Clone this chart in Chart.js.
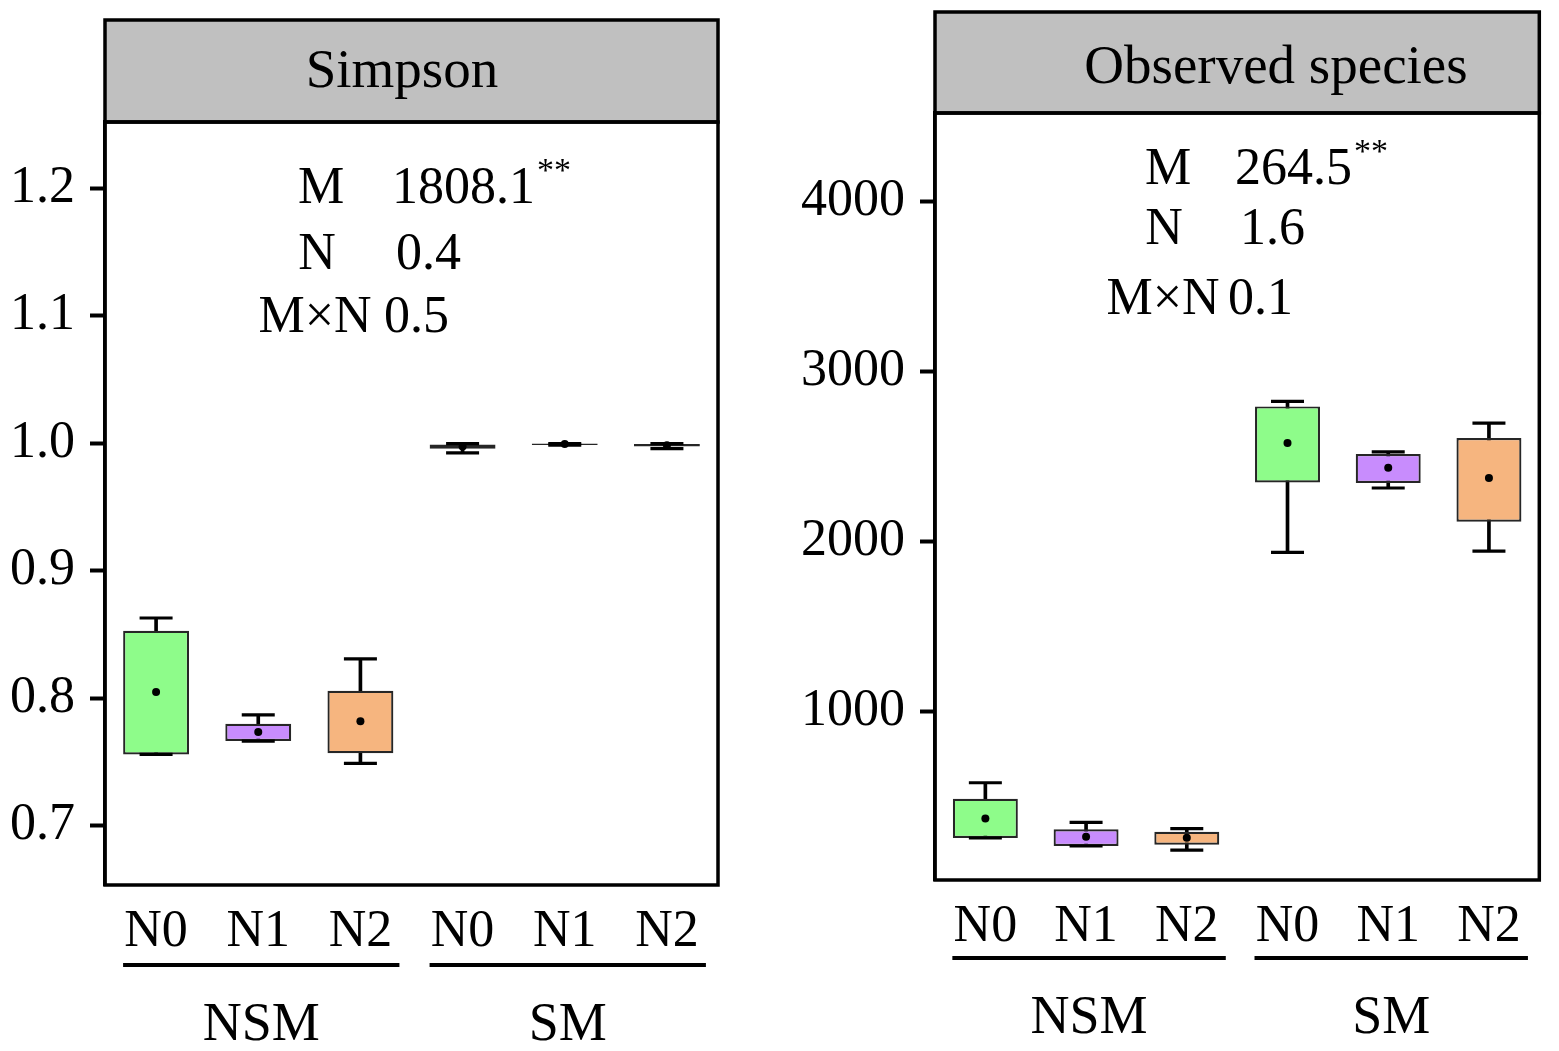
<!DOCTYPE html>
<html><head><meta charset="utf-8">
<script src="https://cdn.jsdelivr.net/npm/chart.js@4.4.1/dist/chart.umd.min.js"></script>
<style>
html,body{margin:0;padding:0;background:#fff;}
#wrap{position:relative;width:1559px;height:1051px;overflow:hidden;background:#fff;}
.panel{position:absolute;top:0;height:1051px;}
#p1{left:0;width:760px;}
#p2{left:780px;width:779px;}
</style></head><body>
<div id="wrap">
<div class="panel" id="p1"><canvas id="c1"></canvas></div>
<div class="panel" id="p2"><canvas id="c2"></canvas></div>
</div>
<script>
// ---- data ----
const categories = ['N0', 'N1', 'N2', 'N0', 'N1', 'N2'];
const groups = ['NSM', 'SM'];
const boxColors = ['#8efc8a', '#c88cfd', '#f6b57f', '#8efc8a', '#c88cfd', '#f6b57f'];

const simpsonMin  = [0.756, 0.7665, 0.749, 0.9925, 0.9986, 0.9958];
const simpsonQ1   = [0.756, 0.7665, 0.757, 0.9957, 0.9986, 0.9975];
const simpsonQ3   = [0.853, 0.780, 0.806, 0.9990, 0.9998, 0.9995];
const simpsonMax  = [0.863, 0.787, 0.831, 0.9998, 0.9998, 0.9998];
const simpsonMean = [0.805, 0.7735, 0.782, 0.9975, 0.9994, 0.9985];
const simpsonTicks = [0.7, 0.8, 0.9, 1.0, 1.1, 1.2];
const simpsonStatLabels = ['M', 'N', 'M×N'];
const simpsonStatValues = ['1808.1', '0.4', '0.5'];
const simpsonStatSig = ['**', '', ''];

const obsMin  = [257, 210, 186, 1937, 2316, 1945];
const obsQ1   = [257, 210, 218, 2349, 2345, 2118];
const obsQ3   = [488, 308, 294, 2796, 2516, 2610];
const obsMax  = [582, 349, 312, 2825, 2529, 2698];
const obsMean = [372, 265, 259, 2581, 2435, 2375];
const obsTicks = [1000, 2000, 3000, 4000];
const obsStatLabels = ['M', 'N', 'M×N'];
const obsStatValues = ['264.5', '1.6', '0.1'];
const obsStatSig = ['**', '', ''];

const FONT = '"Liberation Serif", "Times New Roman", serif';

function makePanel(id, d, L) {
  const decor = {
    id: 'decor' + id,
    afterDraw(chart) {
      const ctx = chart.ctx, a = chart.chartArea, x = chart.scales.x;
      ctx.save();
      // header strip
      ctx.fillStyle = '#c0c0c0';
      ctx.fillRect(a.left, L.headerTop, a.right - a.left, a.top - L.headerTop);
      ctx.lineWidth = 3.5; ctx.strokeStyle = '#000';
      ctx.strokeRect(a.left, L.headerTop, a.right - a.left, a.top - L.headerTop);
      // plot frame
      ctx.strokeRect(a.left, a.top, a.right - a.left, a.bottom - a.top);
      // title
      ctx.fillStyle = '#000';
      ctx.textBaseline = 'alphabetic';
      ctx.textAlign = 'center';
      ctx.font = '55px ' + FONT;
      ctx.fillText(d.title, L.titleX, L.titleY);
      // statistics
      for (let i = 0; i < d.statLabels.length; i++) {
        ctx.font = '52px ' + FONT;
        ctx.textAlign = 'center';
        ctx.fillText(d.statLabels[i], L.labelX[i], L.statY[i]);
        ctx.textAlign = 'left';
        ctx.fillText(d.statValues[i], L.valueX[i], L.statY[i]);
        if (d.statSig[i]) {
          const w = ctx.measureText(d.statValues[i]).width;
          ctx.font = '34px ' + FONT;
          ctx.fillText(d.statSig[i], L.valueX[i] + w + 2, L.statY[i] - 22);
        }
      }
      // group underlines and labels
      ctx.lineWidth = 4;
      ctx.font = '54px ' + FONT;
      ctx.textAlign = 'center';
      for (let g = 0; g < d.groups.length; g++) {
        const x0 = x.getPixelForValue(g * 3) - 33;
        const x1 = x.getPixelForValue(g * 3 + 2) + 39;
        ctx.beginPath();
        ctx.moveTo(x0, L.underlineY); ctx.lineTo(x1, L.underlineY);
        ctx.stroke();
        ctx.fillText(d.groups[g], (x0 + x1) / 2, L.groupY);
      }
      ctx.restore();
    }
  };

  const whisker = d.min.map((v, i) => [v, d.max[i]]);
  const boxes = d.q1.map((v, i) => [v, d.q3[i]]);

  return new Chart(document.getElementById(id), {
    type: 'bar',
    data: {
      labels: categories,
      datasets: [
        { type: 'bar', data: whisker, backgroundColor: '#000', borderWidth: 0,
          barThickness: 3, grouped: false, order: 4 },
        { type: 'bar', data: boxes, backgroundColor: boxColors, borderColor: '#262626',
          borderWidth: 2.2, borderSkipped: false, grouped: false,
          categoryPercentage: 1, barPercentage: 0.645, order: 3 },
        { type: 'line', data: d.max, showLine: false, pointStyle: 'line', pointRadius: 16.5,
          pointBorderColor: '#000', pointBorderWidth: 3.2, order: 2 },
        { type: 'line', data: d.min, showLine: false, pointStyle: 'line', pointRadius: 16.5,
          pointBorderColor: '#000', pointBorderWidth: 3.2, order: 2 },
        { type: 'line', data: d.mean, showLine: false, pointStyle: 'circle', pointRadius: 4,
          pointBackgroundColor: '#000', pointBorderWidth: 0, order: 1 }
      ]
    },
    options: {
      responsive: true,
      maintainAspectRatio: false,
      animation: false,
      events: [],
      layout: { padding: { left: 0, right: L.padRight, top: L.padTop, bottom: 0 } },
      plugins: { legend: { display: false }, tooltip: { enabled: false } },
      scales: {
        x: {
          type: 'category', offset: true,
          grid: { display: false, drawTicks: false },
          border: { display: false },
          ticks: { color: '#000', font: { family: FONT, size: 52 }, padding: 16, maxRotation: 0, autoSkip: false },
          afterFit(s) { s.height = L.xAxisHeight; }
        },
        y: {
          type: 'linear', min: d.yMin, max: d.yMax,
          grid: { display: true, drawOnChartArea: false, drawTicks: true, tickLength: 15, tickWidth: 4, tickColor: '#000' },
          border: { display: true, color: '#000', width: 3.5 },
          ticks: { color: '#000', font: { family: FONT, size: 52 }, padding: 15, callback: d.fmt },
          afterBuildTicks(s) { s.ticks = d.ticks.map(v => ({ value: v })); },
          afterFit(s) { s.width = L.yAxisWidth; }
        }
      }
    },
    plugins: [decor]
  });
}

makePanel('c1', {
  min: simpsonMin, q1: simpsonQ1, q3: simpsonQ3, max: simpsonMax, mean: simpsonMean,
  ticks: simpsonTicks, yMin: 0.6536, yMax: 1.252, fmt: v => Number(v).toFixed(1),
  title: 'Simpson', groups: groups,
  statLabels: simpsonStatLabels, statValues: simpsonStatValues, statSig: simpsonStatSig
}, {
  yAxisWidth: 105, padRight: 42, padTop: 122, xAxisHeight: 166,
  headerTop: 20, titleX: 402, titleY: 87,
  labelX: [321, 317, 315], valueX: [392, 396, 384], statY: [203, 269, 332],
  underlineY: 965, groupY: 1040
});

makePanel('c2', {
  min: obsMin, q1: obsQ1, q3: obsQ3, max: obsMax, mean: obsMean,
  ticks: obsTicks, yMin: 10, yMax: 4522, fmt: v => String(v),
  title: 'Observed species', groups: groups,
  statLabels: obsStatLabels, statValues: obsStatValues, statSig: obsStatSig
}, {
  yAxisWidth: 155, padRight: 12, padTop: 113, xAxisHeight: 171,
  headerTop: 12, titleX: 496, titleY: 83,
  labelX: [388, 384, 383], valueX: [455, 460, 448], statY: [184, 244, 314],
  underlineY: 958, groupY: 1033
});
</script>
</body></html>
